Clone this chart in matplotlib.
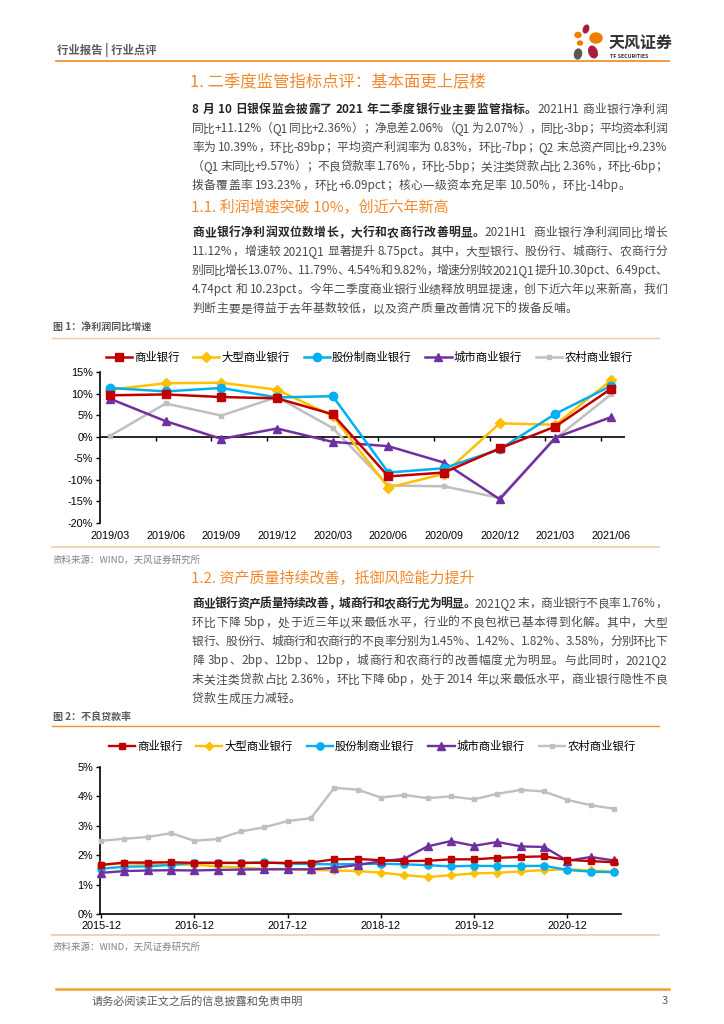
import numpy as np
import matplotlib.pyplot as plt
from matplotlib.lines import Line2D
from matplotlib.patches import Ellipse

plt.rcParams['font.family'] = ['Noto Sans CJK SC', 'DejaVu Sans']

# -----------------------------
# 数据
# -----------------------------
quarters_1 = ['2019/03', '2019/06', '2019/09', '2019/12', '2020/03',
              '2020/06', '2020/09', '2020/12', '2021/03', '2021/06']
profit_all = [9.6, 9.8, 9.2, 8.9, 5.2, -9.2, -8.3, -2.7, 2.36, 11.12]
profit_big = [10.9, 12.4, 12.5, 10.9, 4.8, -11.8, -8.6, 3.1, 2.77, 13.07]
profit_joint = [11.3, 10.5, 11.3, 9.1, 9.4, -8.3, -7.3, -2.9, 5.30, 11.79]
profit_city = [8.8, 3.6, -0.5, 1.9, -1.2, -2.2, -6.0, -14.5, -0.20, 4.54]
profit_rural = [0.2, 7.7, 4.9, 9.2, 2.0, -11.3, -11.5, -14.2, -0.41, 9.82]

npl_ticks = [0, 4, 8, 12, 16, 20]
npl_tick_labels = ['2015-12', '2016-12', '2017-12', '2018-12', '2019-12', '2020-12']
npl_all = [1.67, 1.75, 1.75, 1.76, 1.74, 1.74, 1.74, 1.74, 1.74, 1.75, 1.86, 1.87,
           1.83, 1.80, 1.81, 1.86, 1.86, 1.91, 1.94, 1.96, 1.84, 1.80, 1.76]
npl_big = [1.68, 1.72, 1.70, 1.67, 1.68, 1.62, 1.58, 1.53, 1.53, 1.50, 1.48, 1.46,
           1.41, 1.32, 1.26, 1.32, 1.38, 1.40, 1.45, 1.49, 1.52, 1.48, 1.45]
npl_joint = [1.54, 1.61, 1.62, 1.67, 1.74, 1.74, 1.73, 1.76, 1.71, 1.70, 1.69, 1.70,
             1.71, 1.69, 1.66, 1.62, 1.64, 1.63, 1.63, 1.64, 1.50, 1.44, 1.42]
npl_city = [1.40, 1.46, 1.48, 1.49, 1.48, 1.50, 1.51, 1.52, 1.52, 1.52, 1.57, 1.67,
            1.79, 1.88, 2.30, 2.48, 2.32, 2.45, 2.30, 2.28, 1.81, 1.94, 1.82]
npl_rural = [2.49, 2.56, 2.62, 2.75, 2.49, 2.55, 2.81, 2.95, 3.16, 3.26, 4.29, 4.23,
             3.96, 4.05, 3.94, 4.00, 3.90, 4.09, 4.22, 4.17, 3.88, 3.70, 3.58]

names = ['商业银行', '大型商业银行', '股份制商业银行', '城市商业银行', '农村商业银行']
colors = ['#C00000', '#FFC000', '#00B0F0', '#7030A0', '#BFBFBF']
markers = ['s', 'D', 'o', '^', 's']

# -----------------------------
# 页面
# -----------------------------
W, H = 724, 1024
fig = plt.figure(figsize=(W / 100, H / 100), dpi=100)
renderer = fig.canvas.get_renderer()


def fx(px):
    return px / W


def fy(py):
    return 1 - py / H


def hline(x0, x1, y, color, lw):
    fig.add_artist(Line2D([fx(x0), fx(x1)], [fy(y), fy(y)], transform=fig.transFigure,
                          color=color, lw=lw))


_cache = {}


def ext(s, size, weight):
    key = (s, size, weight)
    if key not in _cache:
        t = fig.text(0, 0, s, fontsize=size, fontweight=weight)
        _cache[key] = t.get_window_extent(renderer).width
        t.remove()
    return _cache[key]


def adv(tok, size, weight):
    return ext('中' + tok + '中', size, weight) - ext('中中', size, weight)


def tokens_of(segments):
    toks = []
    for text, weight, color in segments:
        run = ''
        for c in text:
            if ord(c) < 128 and c != ' ':
                run += c
                continue
            if run:
                toks.append((run, weight, color))
                run = ''
            toks.append((c, weight, color))
        if run:
            toks.append((run, weight, color))
    return toks


def body_line(y, segments, justify=True, x0=192, x1=667, size=8.5):
    toks = tokens_of(segments)
    widths = [adv(t, size, w) for t, w, c in toks]
    gap = 0.3
    if justify and len(toks) > 1:
        gap = (x1 - x0 - sum(widths)) / (len(toks) - 1)
    x = x0
    for (t, w, c), wd in zip(toks, widths):
        if t.strip():
            fig.text(fx(x), fy(y + 4.3), t, fontsize=size, fontweight=w, color=c,
                     ha='left', va='baseline')
        x += wd + gap


B = ('bold', '#262626')
N = ('normal', '#4a4a4a')


def seg(text, style):
    return (text, style[0], style[1])


# 页眉
fig.text(fx(57), fy(50), '行业报告 | 行业点评', fontsize=8.2, fontweight='bold',
         color='#595959', va='center')
hline(56, 669, 60.5, '#F0922E', 1.3)
fig.text(fx(609), fy(43), '天风证券', fontsize=11.5, fontweight='bold', color='#333333',
         va='center')
fig.text(fx(610), fy(56), 'TF SECURITIES', fontsize=3.8, fontweight='bold',
         color='#333333', va='center')
lax = fig.add_axes([fx(565), fy(66), fx(608) - fx(565), fy(24) - fy(66)])
lax.set_xlim(565, 608)
lax.set_ylim(66, 24)
lax.axis('off')
for (cx, cy, w, h, ang, col) in [(586, 29, 5, 8, 20, '#A61E3C'), (578, 35, 6, 5, 0, '#EE7D00'),
                                  (596, 38, 12, 10, 0, '#EE7D00'), (580, 43, 5, 4, 0, '#EE7D00'),
                                  (578, 54, 7, 10, 10, '#595959'), (593, 52, 8, 12, -20, '#A61E3C')]:
    lax.add_patch(Ellipse((cx, cy), w, h, angle=ang, color=col))

ORANGE = '#F08A2C'
fig.text(fx(190), fy(82), '1. 二季度监管指标点评：基本面更上层楼', fontsize=11.8,
         color=ORANGE, va='center')

p1 = [
    [seg('8 月 10 日银保监会披露了 2021 年二季度银行业主要监管指标。', B),
     seg('2021H1 商业银行净利润', N)],
    [seg('同比+11.12%（Q1 同比+2.36%）；净息差 2.06%（Q1 为 2.07%），同比-3bp；平均资本利润', N)],
    [seg('率为 10.39%，环比-89bp；平均资产利润率为 0.83%，环比-7bp；Q2 末总资产同比+9.23%', N)],
    [seg('（Q1 末同比+9.57%）；不良贷款率 1.76%，环比-5bp；关注类贷款占比 2.36%，环比-6bp；', N)],
    [seg('拨备覆盖率 193.23%，环比+6.09pct；核心一级资本充足率 10.50%，环比-14bp。', N)],
]
for i, line in enumerate(p1):
    body_line(109 + 19 * i, line, justify=i < len(p1) - 1)

fig.text(fx(191), fy(207), '1.1. 利润增速突破 10%，创近六年新高', fontsize=10.8,
         color=ORANGE, va='center')

p2 = [
    [seg('商业银行净利润双位数增长，大行和农商行改善明显。', B),
     seg('2021H1  商业银行净利润同比增长', N)],
    [seg('11.12%，增速较 2021Q1 显著提升 8.75pct。其中，大型银行、股份行、城商行、农商行分', N)],
    [seg('别同比增长 13.07%、11.79%、4.54%和 9.82%，增速分别较 2021Q1 提升 10.30pct、6.49pct、', N)],
    [seg('4.74pct 和 10.23pct。今年二季度商业银行业绩释放明显提速，创下近六年以来新高，我们', N)],
    [seg('判断主要是得益于去年基数较低，以及资产质量改善情况下的拨备反哺。', N)],
]
for i, line in enumerate(p2):
    body_line(232 + 19 * i, line, justify=i < len(p2) - 1)

fig.text(fx(53), fy(328), '图 1：净利润同比增速', fontsize=7.2, fontweight='bold',
         color='#595959', va='center')
hline(52, 659, 338, '#F7C8A0', 1.0)

fig.text(fx(191), fy(578), '1.2. 资产质量持续改善，抵御风险能力提升', fontsize=10.8,
         color=ORANGE, va='center')

p3 = [
    [seg('商业银行资产质量持续改善，城商行和农商行尤为明显。', B),
     seg('2021Q2 末，商业银行不良率 1.76%，', N)],
    [seg('环比下降 5bp，处于近三年以来最低水平，行业的不良包袱已基本得到化解。其中，大型', N)],
    [seg('银行、股份行、城商行和农商行的不良率分别为 1.45%、1.42%、1.82%、3.58%，分别环比下', N)],
    [seg('降 3bp、2bp、12bp、12bp，城商行和农商行的改善幅度尤为明显。与此同时，2021Q2', N)],
    [seg('末关注类贷款占比 2.36%，环比下降 6bp，处于 2014 年以来最低水平，商业银行隐性不良', N)],
    [seg('贷款生成压力减轻。', N)],
]
for i, line in enumerate(p3):
    body_line(603 + 19 * i, line, justify=i < len(p3) - 1)

fig.text(fx(53), fy(717), '图 2：不良贷款率', fontsize=7.2, fontweight='bold',
         color='#595959', va='center')
hline(52, 659, 726, '#F0922E', 1.0)

# 资料来源
for ly, ty in [(547, 560), (935, 947)]:
    hline(52, 659, ly, '#F7C8A0', 1.2)
    fig.text(fx(53), fy(ty), '资料来源：WIND，天风证券研究所', fontsize=6.8,
             color='#808080', va='center')

# 页脚
hline(56, 669, 989, '#F0A030', 1.8)
fig.text(fx(92), fy(1001), '请务必阅读正文之后的信息披露和免责申明', fontsize=8,
         color='#595959', va='center')
fig.text(fx(662), fy(1001), '3', fontsize=8, color='#595959', va='center')

CHART_FONT = ['Liberation Sans', 'Noto Sans CJK SC']

# -----------------------------
# 图 1：净利润同比增速
# -----------------------------
ax1 = fig.add_axes([fx(100), fy(523), fx(625) - fx(100), fy(372) - fy(523)])
x1 = np.arange(len(quarters_1))
series1 = [profit_all, profit_big, profit_joint, profit_city, profit_rural]
sizes1 = [5.2, 5.2, 6, 5.8, 3]
for k in [4, 3, 1, 2, 0]:
    ax1.plot(x1, series1[k], color=colors[k], lw=1.8, marker=markers[k], ms=sizes1[k],
             label=names[k], zorder=3)
ax1.axhline(0, color='black', lw=1.2, zorder=2)
ax1.vlines(x1[:-1] + 0.82, -0.9, 0, color='black', lw=1.0, zorder=2)
ax1.set_xlim(-0.18, 9.25)
ax1.set_ylim(-20, 15)
yt1 = np.arange(-20, 16, 5)
ax1.set_yticks(yt1)
ax1.set_yticklabels([f'{v}%' for v in yt1], fontfamily=CHART_FONT, fontsize=7.8)
ax1.set_xticks(x1)
ax1.set_xticklabels(quarters_1, fontfamily=CHART_FONT, fontsize=7.8)
ax1.tick_params(axis='x', length=0, pad=6)
ax1.tick_params(axis='y', length=3, width=1.0, pad=2)
for s in ['top', 'right', 'bottom']:
    ax1.spines[s].set_visible(False)
ax1.spines['left'].set_linewidth(1.2)
h1, l1 = ax1.get_legend_handles_labels()
idx1 = [l1.index(n) for n in names]
fig.legend([h1[i] for i in idx1], names, loc='center', bbox_to_anchor=(fx(369), fy(357)),
           ncol=5, frameon=False, prop={'family': CHART_FONT, 'size': 8.2},
           handlelength=2.3, handletextpad=0.2, columnspacing=1.2)

# -----------------------------
# 图 2：不良贷款率
# -----------------------------
ax2 = fig.add_axes([fx(100), fy(914), fx(621) - fx(100), fy(767) - fy(914)])
x2 = np.arange(len(npl_all))
series2 = [npl_all, npl_big, npl_joint, npl_city, npl_rural]
sizes2 = [4.8, 4, 5.2, 5.2, 2.5]
for k in [4, 1, 2, 3, 0]:
    ax2.plot(x2, series2[k], color=colors[k], lw=1.7, marker=markers[k], ms=sizes2[k],
             label=names[k], zorder=3, clip_on=False)
ax2.set_xlim(-0.05, 22.3)
ax2.set_ylim(0, 5)
yt2 = np.arange(0, 6)
ax2.set_yticks(yt2)
ax2.set_yticklabels([f'{v}%' for v in yt2], fontfamily=CHART_FONT, fontsize=7.8)
ax2.set_xticks(npl_ticks)
ax2.set_xticklabels(npl_tick_labels, fontfamily=CHART_FONT, fontsize=7.8)
ax2.tick_params(axis='both', length=3, width=1.0, pad=2)
for s in ['top', 'right']:
    ax2.spines[s].set_visible(False)
for s in ['left', 'bottom']:
    ax2.spines[s].set_linewidth(1.2)
h2, l2 = ax2.get_legend_handles_labels()
idx2 = [l2.index(n) for n in names]
fig.legend([h2[i] for i in idx2], names, loc='center', bbox_to_anchor=(fx(372), fy(746)),
           ncol=5, frameon=False, prop={'family': CHART_FONT, 'size': 8.2},
           handlelength=2.3, handletextpad=0.2, columnspacing=1.2)

fig.savefig('out.png', dpi=100)
